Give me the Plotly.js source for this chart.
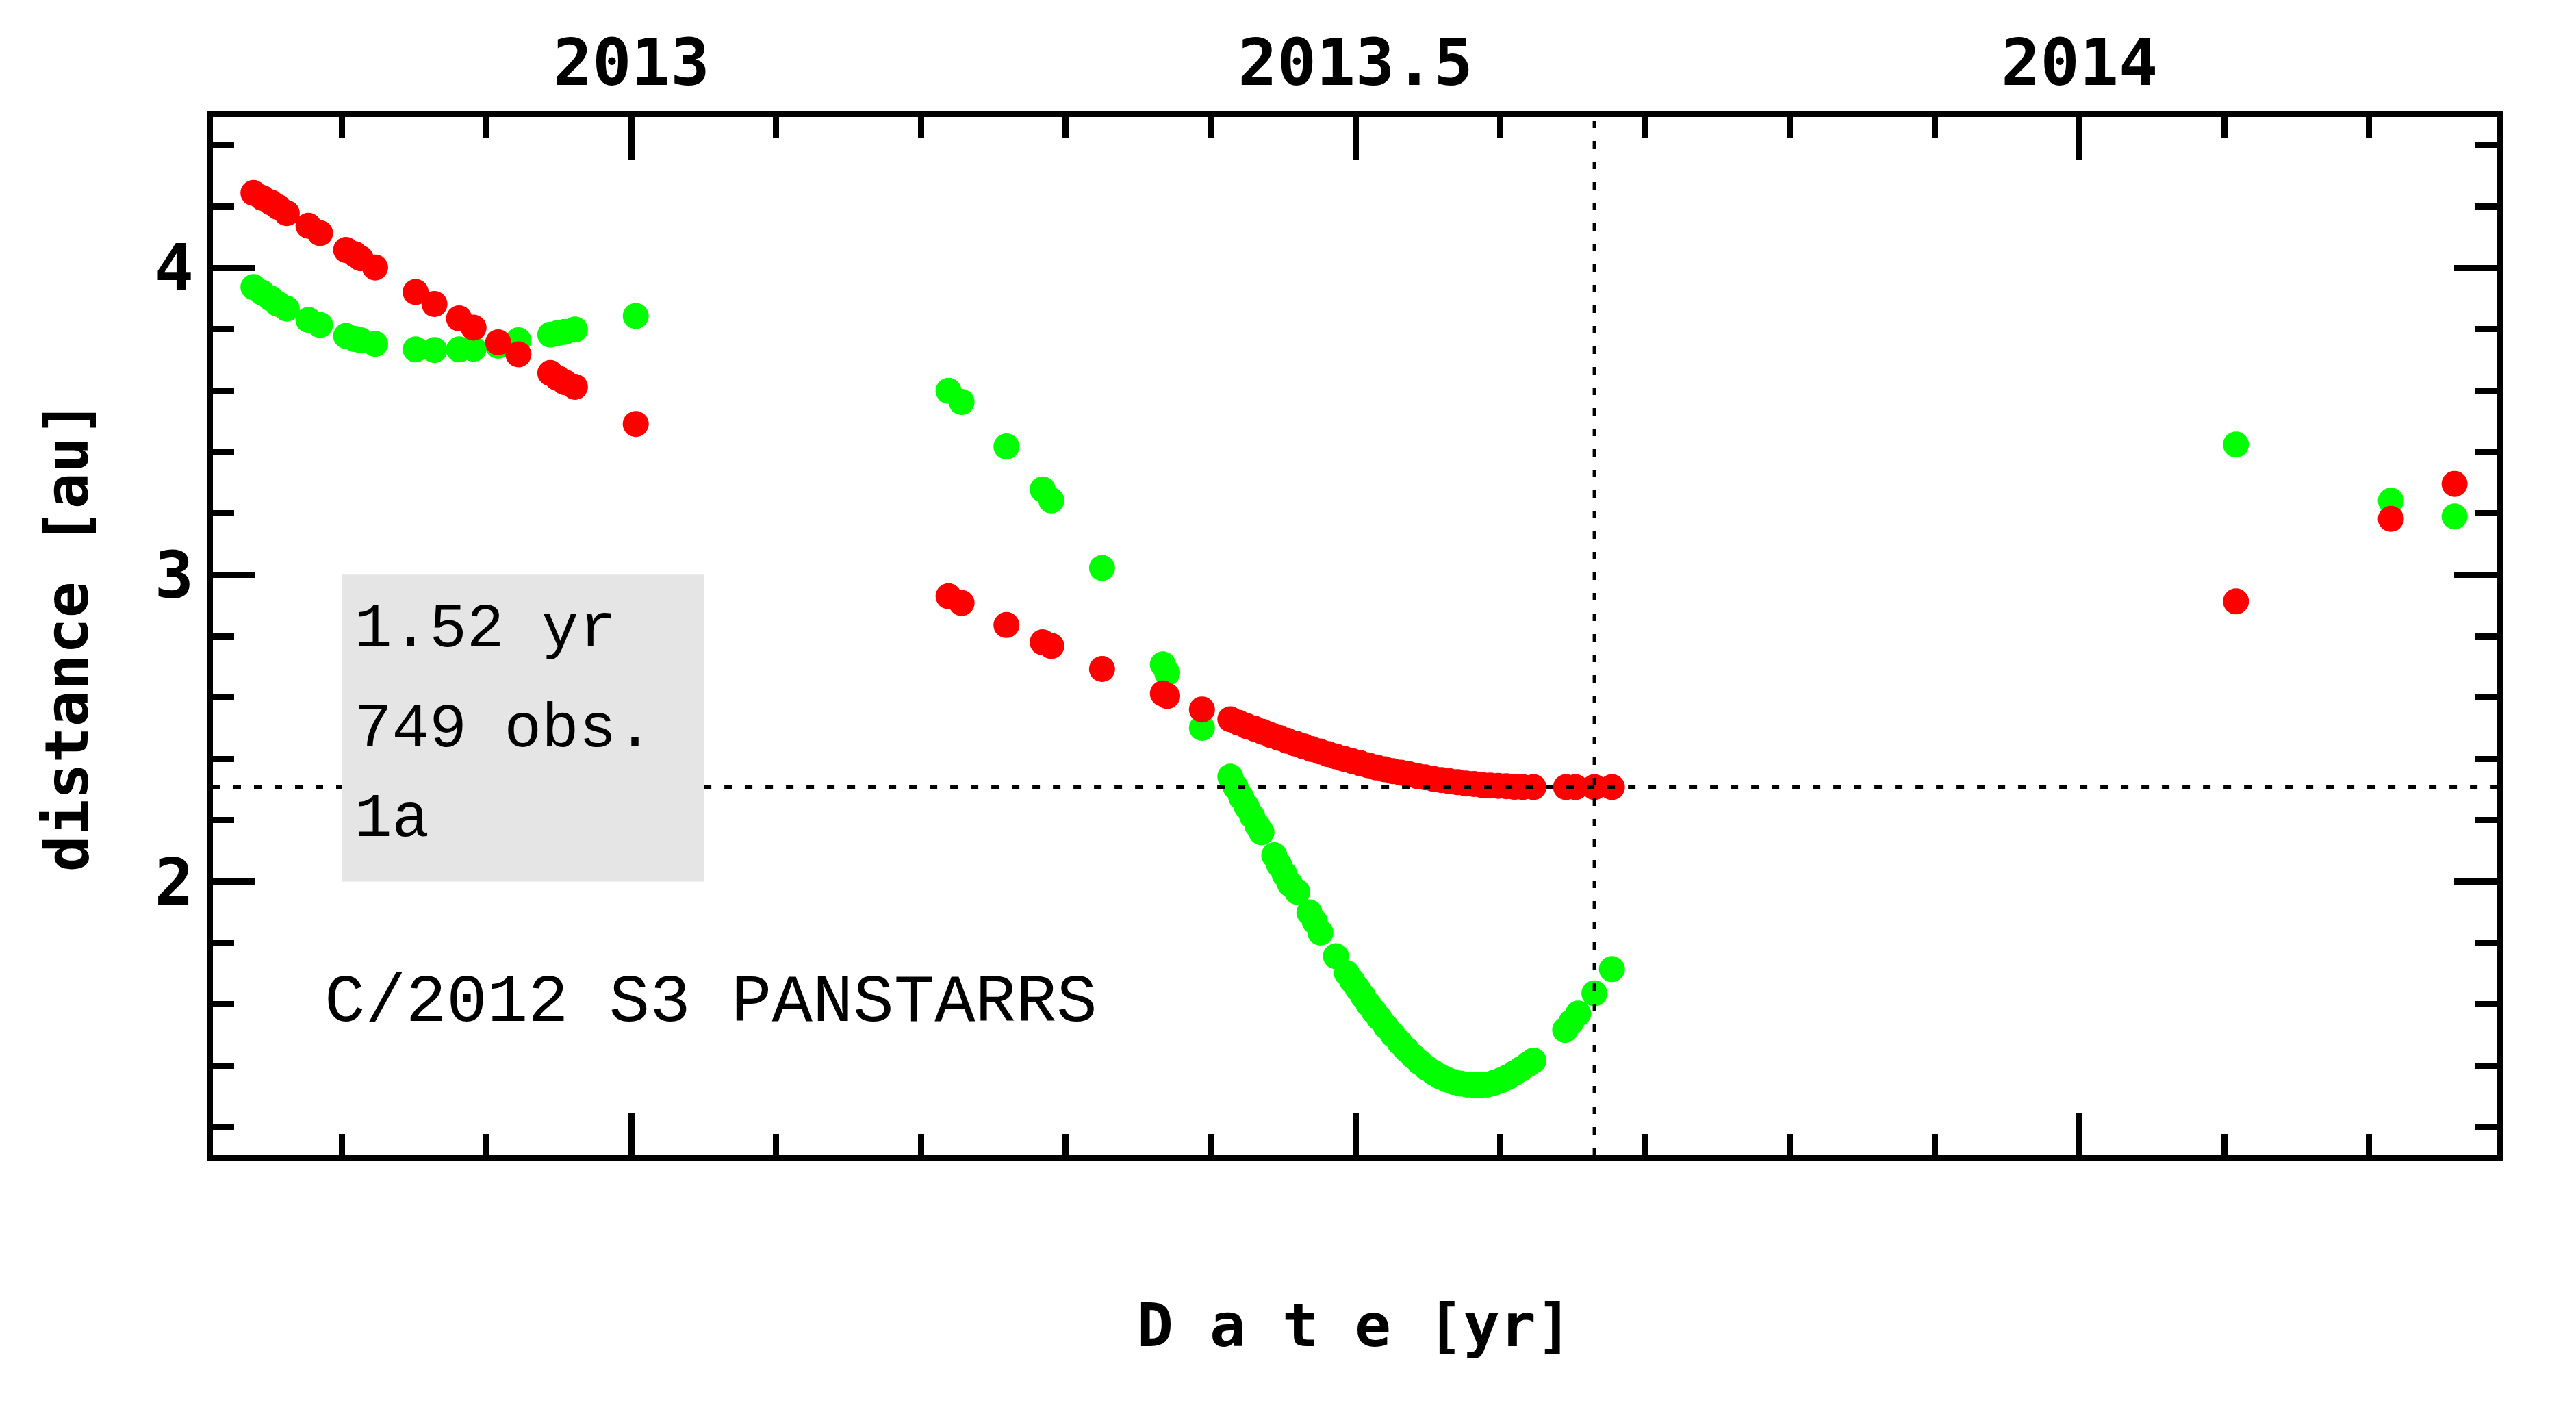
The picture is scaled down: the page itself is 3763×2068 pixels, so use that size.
<!DOCTYPE html>
<html>
<head>
<meta charset="utf-8">
<script src="https://cdn.plot.ly/plotly-3.0.1.min.js"></script>
<style>html,body{margin:0;padding:0;background:#fff;}</style>
</head>
<body>
<div id="chart" style="width:3763px;height:2068px;"></div>
<script>
// ---- data ----
// heliocentric distance (red)
const redDate = [
  2012.739, 2012.745, 2012.751, 2012.756, 2012.762, 2012.777, 2012.785, 2012.803, 2012.809, 2012.813,
  2012.823, 2012.851, 2012.864, 2012.881, 2012.891, 2012.908, 2012.922, 2012.944, 2012.949, 2012.954,
  2012.961, 2013.003,
  2013.219, 2013.228, 2013.259, 2013.284, 2013.290, 2013.325, 2013.367, 2013.370, 2013.394,
  2013.4136, 2013.4192, 2013.4248, 2013.4304, 2013.4360, 2013.4416, 2013.4473, 2013.4529, 2013.4585, 2013.4641,
  2013.4697, 2013.4753, 2013.4809, 2013.4865, 2013.4921, 2013.4977, 2013.5033, 2013.5089, 2013.5145, 2013.5201,
  2013.5257, 2013.5314, 2013.5370, 2013.5426, 2013.5482, 2013.5538, 2013.5594, 2013.5650, 2013.5706, 2013.5762,
  2013.5818, 2013.5874, 2013.5930, 2013.5986, 2013.6042, 2013.6098, 2013.6155, 2013.6229,
  2013.6454, 2013.6519, 2013.6650, 2013.6771,
  2014.108, 2014.215, 2014.259
];
const redDist = [
  4.244, 4.228, 4.213, 4.198, 4.178, 4.137, 4.113, 4.058, 4.044, 4.031,
  4.001, 3.921, 3.882, 3.835, 3.805, 3.757, 3.718, 3.657, 3.641, 3.627,
  3.612, 3.491,
  2.930, 2.908, 2.836, 2.780, 2.768, 2.693, 2.613, 2.605, 2.561,
  2.529, 2.518, 2.507, 2.498, 2.488, 2.477, 2.468, 2.459, 2.450, 2.441,
  2.432, 2.424, 2.416, 2.408, 2.400, 2.393, 2.386, 2.379, 2.372, 2.366,
  2.360, 2.355, 2.350, 2.344, 2.340, 2.335, 2.331, 2.327, 2.324, 2.320,
  2.318, 2.315, 2.313, 2.312, 2.311, 2.309, 2.308, 2.308,
  2.308, 2.308, 2.308, 2.308,
  2.913, 3.182, 3.296
];
// geocentric distance (green)
const greenDate = [
  2012.739, 2012.745, 2012.751, 2012.756, 2012.762, 2012.777, 2012.785, 2012.803, 2012.809, 2012.813,
  2012.823, 2012.851, 2012.864, 2012.881, 2012.891, 2012.908, 2012.922, 2012.944, 2012.949, 2012.954,
  2012.961, 2013.003,
  2013.219, 2013.228, 2013.259, 2013.284, 2013.290, 2013.325, 2013.367, 2013.370, 2013.394,
  2013.4136, 2013.4173, 2013.4211, 2013.4248, 2013.4286, 2013.4323, 2013.4351,
  2013.4439, 2013.4473, 2013.4510, 2013.4547, 2013.4598,
  2013.4682, 2013.4719, 2013.4758, 2013.4865,
  2013.4940, 2013.4977, 2013.5015, 2013.5052, 2013.5089, 2013.5127, 2013.5164, 2013.5211, 2013.5257, 2013.5304,
  2013.5351, 2013.5398, 2013.5444, 2013.5491, 2013.5538, 2013.5585, 2013.5631, 2013.5678, 2013.5725, 2013.5771,
  2013.5818, 2013.5865, 2013.5912, 2013.5958, 2013.6005, 2013.6052, 2013.6098, 2013.6145, 2013.6192, 2013.6229,
  2013.6448, 2013.6491, 2013.6538, 2013.6650, 2013.6771,
  2014.108, 2014.215, 2014.259
];
const greenDist = [
  3.937, 3.919, 3.900, 3.882, 3.867, 3.830, 3.814, 3.778, 3.768, 3.764,
  3.752, 3.734, 3.732, 3.734, 3.736, 3.746, 3.764, 3.782, 3.787, 3.791,
  3.799, 3.843,
  3.599, 3.563, 3.418, 3.278, 3.242, 3.022, 2.708, 2.680, 2.501,
  2.342, 2.308, 2.275, 2.245, 2.214, 2.183, 2.161,
  2.086, 2.055, 2.024, 1.993, 1.967,
  1.900, 1.870, 1.834, 1.757,
  1.702, 1.677, 1.652, 1.627, 1.602, 1.578, 1.556, 1.528, 1.502, 1.477,
  1.453, 1.431, 1.411, 1.393, 1.378, 1.365, 1.355, 1.347, 1.342, 1.339,
  1.337, 1.337, 1.339, 1.345, 1.353, 1.363, 1.376, 1.390, 1.405, 1.417,
  1.517, 1.543, 1.570, 1.636, 1.715,
  3.424, 3.241, 3.190
];
// axis ticks
const xTickVals = [2013, 2013.5, 2014];
const xTickText = ["2013", "2013.5", "2014"];
const yTickVals = [2, 3, 4];
const yTickText = ["2", "3", "4"];
// reference lines and info box
const refDist = 2.308;        // horizontal dotted line
const refDate = 2013.665;     // vertical dotted line
const boxDate = [2012.8, 2013.05];
const boxDist = [2.0, 3.0];
const infoLines = ["1.52 yr", "749 obs.", "1a"];
const infoDist = [2.822, 2.496, 2.204];
const infoDate = 2012.808;
const objectName = "C/2012 S3 PANSTARRS";
const objectDate = 2012.787;
const objectDist = 1.604;
const xRange = [2012.711, 2014.288];
const yRange = [1.109, 4.491];

const tickFont = {family: "DejaVu Sans Mono", size: 95, color: "#000", weight: "bold"};
const titleFont = {family: "DejaVu Sans Mono", size: 88, color: "#000", weight: "bold"};
const boxFont = {family: "Liberation Mono", size: 91, color: "#000"};
const nameFont = {family: "Liberation Mono", size: 99, color: "#000"};

const traces = [
  {type: "scatter", mode: "markers", x: greenDate, y: greenDist,
   marker: {color: "#00ff00", size: 38, line: {width: 0}}, hoverinfo: "skip"},
  {type: "scatter", mode: "markers", x: redDate, y: redDist,
   marker: {color: "#ff0000", size: 38, line: {width: 0}}, hoverinfo: "skip"}
];

const dotLine = {color: "#000", width: 5, dash: "11px,19px"};
const shapes = [
  {type: "rect", xref: "x", yref: "y", x0: boxDate[0], x1: boxDate[1], y0: boxDist[0], y1: boxDist[1],
   fillcolor: "#e5e5e5", line: {width: 0}, layer: "below"},
  {type: "line", xref: "x", yref: "y", x0: xRange[0], x1: boxDate[0], y0: refDist, y1: refDist, line: dotLine, layer: "above"},
  {type: "line", xref: "x", yref: "y", x0: boxDate[1], x1: xRange[1], y0: refDist, y1: refDist, line: dotLine, layer: "above"},
  {type: "line", xref: "x", yref: "y", x0: refDate, x1: refDate, y0: yRange[0], y1: yRange[1], line: dotLine, layer: "above"}
];

const annotations = infoLines.map((t, i) => ({
  xref: "x", yref: "y", x: infoDate, y: infoDist[i], text: t, showarrow: false,
  xanchor: "left", yanchor: "middle", font: boxFont
}));
annotations.push({xref: "x", yref: "y", x: objectDate, y: objectDist, text: objectName, showarrow: false,
  xanchor: "left", yanchor: "middle", font: nameFont});
annotations.push({xref: "paper", yref: "paper", x: -0.0641, y: 0.5, text: "distance [au]", textangle: -90,
  showarrow: false, xanchor: "center", yanchor: "middle", font: titleFont});
annotations.push({xref: "paper", yref: "paper", x: 0.5, y: -0.1636, text: "D a t e [yr]",
  showarrow: false, xanchor: "center", yanchor: "middle", font: titleFont});

const axisCommon = {
  showline: true, linecolor: "#000", linewidth: 9, mirror: "allticks",
  ticks: "inside", ticklen: 62, tickwidth: 9, tickcolor: "#000",
  showgrid: false, zeroline: false, tickfont: tickFont
};

const layout = {
  width: 3763, height: 2068,
  margin: {l: 311, r: 116, t: 171, b: 381, pad: 0},
  paper_bgcolor: "#fff", plot_bgcolor: "#fff",
  showlegend: false,
  xaxis: Object.assign({}, axisCommon, {
    side: "top", range: xRange, tickmode: "array", tickvals: xTickVals, ticktext: xTickText,
    minor: {tickmode: "linear", tick0: 2013, dtick: 0.1, ticks: "inside", ticklen: 31, tickwidth: 9, tickcolor: "#000", showgrid: false}
  }),
  yaxis: Object.assign({}, axisCommon, {
    range: yRange, tickmode: "array", tickvals: yTickVals, ticktext: yTickText,
    minor: {tickmode: "linear", tick0: 0, dtick: 0.2, ticks: "inside", ticklen: 31, tickwidth: 9, tickcolor: "#000", showgrid: false}
  }),
  shapes: shapes,
  annotations: annotations
};

Plotly.newPlot("chart", traces, layout, {staticPlot: true, displayModeBar: false});
</script>
</body>
</html>
